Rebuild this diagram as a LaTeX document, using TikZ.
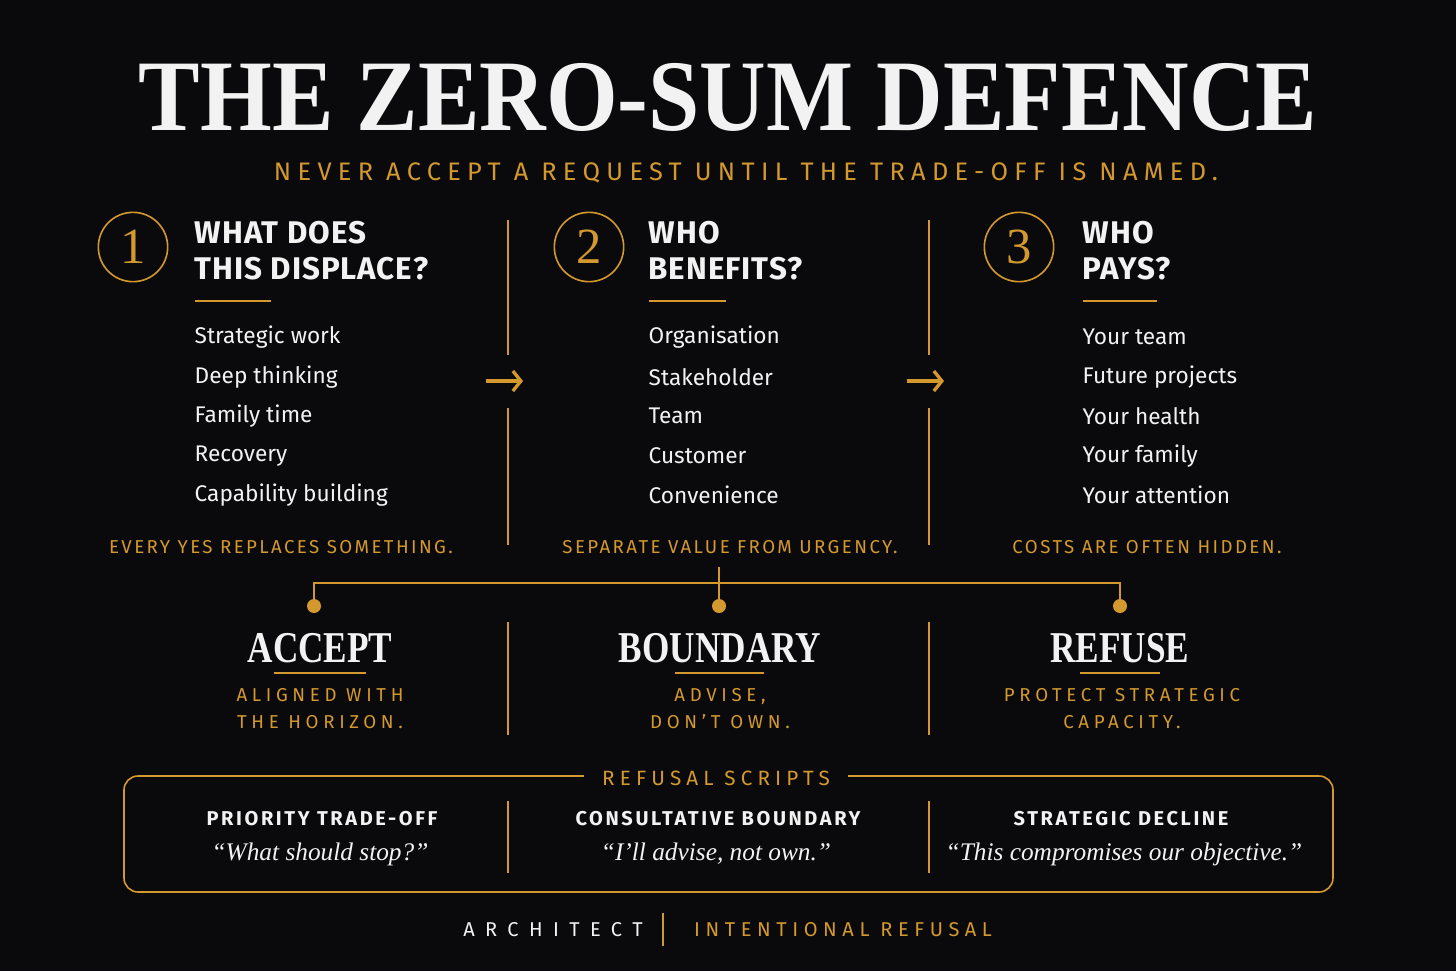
\documentclass[tikz,border=0pt]{standalone}
\usepackage{fontspec}
\usetikzlibrary{arrows.meta}
\setmainfont{Liberation Serif}
\newfontfamily\sans{Fira Sans}
\newfontfamily\sanshead{Fira Sans}[LetterSpace=3]
\newfontfamily\sanssp{Fira Sans}[LetterSpace=13]
\newfontfamily\sanswide{Fira Sans}[LetterSpace=25]
\newfontfamily\sansfoot{Fira Sans}[LetterSpace=52]
\newfontfamily\sansfootb{Fira Sans}[LetterSpace=28]
\definecolor{gold}{RGB}{212,153,46}
\definecolor{bg}{RGB}{10,10,12}
\definecolor{ink}{RGB}{242,242,242}
\begin{document}
\begin{tikzpicture}[x=0.75pt,y=-0.75pt,
  titlet/.style={text=ink,font=\bfseries\fontsize{76}{80}\selectfont},
  subt/.style={text=gold,font=\sanswide\fontsize{19}{20}\selectfont},
  num/.style={circle,draw=gold,line width=1.2pt,minimum size=52pt,inner sep=0pt,text=gold,font=\fontsize{38}{40}\selectfont},
  head/.style={anchor=west,text=ink,align=left,font=\sanshead\bfseries\fontsize{23.5}{27}\selectfont},
  item/.style={anchor=west,text=ink,font=\sans\fontsize{17}{18}\selectfont},
  capt/.style={text=gold,font=\sanssp\fontsize{14}{15}\selectfont},
  opt/.style={text=ink,font=\bfseries\fontsize{33}{36}\selectfont},
  optsub/.style={text=gold,align=center,font=\sanswide\fontsize{14}{20.3}\selectfont},
  scrh/.style={text=ink,font=\sanssp\bfseries\fontsize{15}{16}\selectfont},
  quot/.style={text=ink,font=\itshape\fontsize{19}{20}\selectfont},
  gline/.style={draw=gold,line width=1.2pt},
  uline/.style={draw=gold,line width=1.5pt},
  flow/.style={draw=gold,line width=2.5pt,-{Straight Barb[length=6pt,width=15pt,line width=2.5pt]}},
  dot/.style={circle,fill=gold,minimum size=10.5pt,inner sep=0pt}]
\fill[bg] (0,0) rectangle (1456,971);
\useasboundingbox (0,0) rectangle (1456,971);

% title
\node[titlet] (title) at (728,97) {\scalebox{0.91}[1]{THE ZERO-SUM DEFENCE}};
\node[subt] (sub) at (746,173) {NEVER ACCEPT A REQUEST UNTIL THE TRADE-OFF IS NAMED.};

% column 1
\node[num] (n1) at (133,247) {1};
\node[head] (h1) at (190,251) {WHAT DOES\\THIS DISPLACE?};
\draw[uline] (195,301) -- (271,301);
\node[item] (a1) at (190,337) {Strategic work};
\node[item] (a2) at (190,377) {Deep thinking};
\node[item] (a3) at (190,416) {Family time};
\node[item] (a4) at (190,456) {Recovery};
\node[item] (a5) at (190,495) {Capability building};
\node[capt] (c1) at (281,547) {EVERY YES REPLACES SOMETHING.};

% column 2
\node[num] (n2) at (589,247) {2};
\node[head] (h2) at (644,251) {WHO\\BENEFITS?};
\draw[uline] (649,301) -- (726,301);
\node[item] (b1) at (644,337) {Organisation};
\node[item] (b2) at (644,377) {Stakeholder};
\node[item] (b3) at (644,416) {Team};
\node[item] (b4) at (644,456) {Customer};
\node[item] (b5) at (644,495) {Convenience};
\node[capt] (c2) at (730,547) {SEPARATE VALUE FROM URGENCY.};

% column 3
\node[num] (n3) at (1019,247) {3};
\node[head] (h3) at (1078,251) {WHO\\PAYS?};
\draw[uline] (1083,301) -- (1157,301);
\node[item] (d1) at (1078,337) {Your team};
\node[item] (d2) at (1078,377) {Future projects};
\node[item] (d3) at (1078,416) {Your health};
\node[item] (d4) at (1078,456) {Your family};
\node[item] (d5) at (1078,495) {Your attention};
\node[capt] (c3) at (1147,547) {COSTS ARE OFTEN HIDDEN.};

% column dividers with arrows
\draw[gline] (508,220) -- (508,355);
\draw[gline] (508,408) -- (508,545);
\coordinate (ar1s) at (486,381); \coordinate (ar1e) at (523,381);
\draw[flow] (ar1s) -- (ar1e);
\draw[gline] (929,220) -- (929,355);
\draw[gline] (929,408) -- (929,545);
\coordinate (ar2s) at (907,381); \coordinate (ar2e) at (944,381);
\draw[flow] (ar2s) -- (ar2e);

% tree
\coordinate (top) at (719,567);
\coordinate (hub) at (719,583);
\node[dot] (p1) at (314,606) {};
\node[dot] (p2) at (719,606) {};
\node[dot] (p3) at (1120,606) {};
\draw[gline] (top) -- (hub);
\draw[gline] (p1) |- (p3.north |- hub) -- (p3);
\draw[gline] (hub) -- (p2);

% options
\node[opt] (o1) at (320,648) {\scalebox{0.8}[1]{ACCEPT}};
\node[opt] (o2) at (720,648) {\scalebox{0.8}[1]{BOUNDARY}};
\node[opt] (o3) at (1120,648) {\scalebox{0.8}[1]{REFUSE}};
\draw[gline] (274,673) -- (366,673);
\draw[gline] (675,673) -- (764,673);
\draw[gline] (1080,673) -- (1160,673);
\node[optsub] (s1) at (320,709) {ALIGNED WITH\\THE HORIZON.};
\node[optsub] (s2) at (720,709) {ADVISE,\\DON’T OWN.};
\node[optsub] (s3) at (1122,709) {PROTECT STRATEGIC\\CAPACITY.};
\draw[gline] (508,622) -- (508,735);
\draw[gline] (929,622) -- (929,735);

% refusal scripts box
\draw[gline,rounded corners=10.5pt] (124,776) rectangle (1333,892);
\node[subt,fill=bg,inner xsep=14pt,font=\sanswide\fontsize{15.5}{18}\selectfont] (rs) at (716,778) {REFUSAL SCRIPTS};
\draw[gline] (508,801) -- (508,873);
\draw[gline] (929,801) -- (929,873);
\node[scrh] (t1) at (322,819) {PRIORITY TRADE-OFF};
\node[scrh] (t2) at (718,819) {CONSULTATIVE BOUNDARY};
\node[scrh] (t3) at (1121,819) {STRATEGIC DECLINE};
\node[quot] (q1) at (320,854) {“What should stop?”};
\node[quot] (q2) at (716,854) {“I’ll advise, not own.”};
\node[quot] (q3) at (1124,854) {“This compromises our objective.”};

% footer
\node[text=ink,font=\sansfoot\fontsize{15}{16}\selectfont] (f1) at (553,930) {ARCHITECT};
\coordinate (fa) at (663,913); \coordinate (fb) at (663,946);
\draw[gline] (fa) -- (fb);
\node[text=gold,font=\sansfootb\fontsize{15}{16}\selectfont] (f2) at (843,930) {INTENTIONAL REFUSAL};
\end{tikzpicture}
\end{document}
